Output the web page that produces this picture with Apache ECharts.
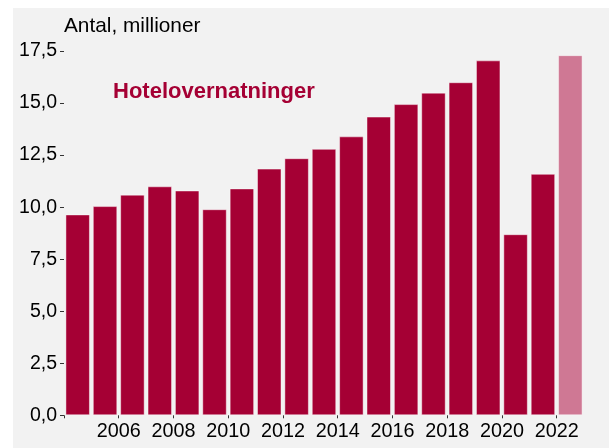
<!DOCTYPE html>
<html>
<head>
<meta charset="utf-8">
<script src="https://cdn.jsdelivr.net/npm/echarts@6/dist/echarts.min.js"></script>
<style>
  html, body { margin: 0; padding: 0; background: #ffffff; }
  #chart { width: 609px; height: 448px; }
</style>
</head>
<body>
<div id="chart"></div>
<script>
// Data
const years = [2004, 2005, 2006, 2007, 2008, 2009, 2010, 2011, 2012, 2013,
               2014, 2015, 2016, 2017, 2018, 2019, 2020, 2021, 2022];
const overnights = [9.65, 10.05, 10.6, 11.0, 10.8, 9.9, 10.9, 11.85, 12.35, 12.8,
                    13.4, 14.35, 14.95, 15.5, 16.0, 17.05, 8.7, 11.6, 17.3];
const preliminary = [false, false, false, false, false, false, false, false, false, false,
                     false, false, false, false, false, false, false, false, true];
const xTickYears = [2004, 2006, 2008, 2010, 2012, 2014, 2016, 2018, 2020, 2022];
const xLabelYears = [2006, 2008, 2010, 2012, 2014, 2016, 2018, 2020, 2022];
const unitLabel = 'Antal, millioner';
const seriesName = 'Hotelovernatninger';

const FONT = '"Liberation Sans", Arial, sans-serif';
const RED = '#a50034';
const PINK = '#cf7894';

const chart = echarts.init(document.getElementById('chart'), null, { renderer: 'canvas' });

chart.setOption({
  animation: false,
  backgroundColor: '#ffffff',
  grid: { left: 64, right: 25, top: 51, bottom: 32.7, containLabel: false },
  graphic: [
    { type: 'rect', z: -10, silent: true,
      shape: { x: 13, y: 8, width: 596, height: 440 },
      style: { fill: '#f2f2f2' } },
    { type: 'text', x: 64, y: 26, silent: true,
      style: { text: unitLabel, font: '20.8px ' + FONT, fill: '#000000',
               align: 'left', verticalAlign: 'middle' } },
    { type: 'text', x: 113, y: 91.5, silent: true,
      style: { text: seriesName, font: 'bold 22px ' + FONT, fill: RED,
               align: 'left', verticalAlign: 'middle' } }
  ],
  xAxis: [
    {
      type: 'category',
      data: years.map(String),
      boundaryGap: true,
      axisLine: { show: false },
      axisTick: { show: false },
      axisLabel: { show: false },
      splitLine: { show: false }
    },
    {
      type: 'value',
      position: 'bottom',
      min: years[0],
      max: years[years.length - 1] + 1,
      axisLine: { show: false },
      axisTick: { show: true, length: 3, customValues: xTickYears,
                  lineStyle: { color: '#333333', width: 1 } },
      axisLabel: { show: true, customValues: xLabelYears, margin: 6,
                   color: '#000000', fontSize: 19.8, fontFamily: FONT,
                   formatter: v => String(v) },
      splitLine: { show: false }
    }
  ],
  yAxis: {
    type: 'value',
    min: 0,
    max: 17.5,
    interval: 2.5,
    axisLine: { show: false },
    axisTick: { show: true, length: 4, lineStyle: { color: '#333333', width: 1 } },
    axisLabel: { margin: 7, color: '#000000', fontSize: 19.5, fontFamily: FONT,
                 formatter: v => v.toFixed(1).replace('.', ',') },
    splitLine: { show: false }
  },
  series: [{
    type: 'bar',
    name: seriesName,
    xAxisIndex: 0,
    barWidth: 24.5,
    itemStyle: { color: RED, borderColor: 'rgba(255,255,255,0.45)', borderWidth: 1 },
    data: overnights.map((v, i) => preliminary[i]
      ? { value: v, itemStyle: { color: PINK } }
      : v)
  }]
});
</script>
</body>
</html>
